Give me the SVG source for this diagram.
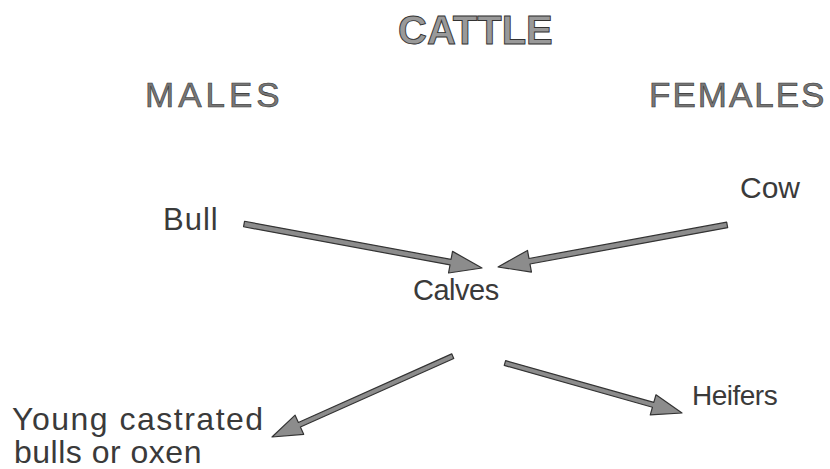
<svg xmlns="http://www.w3.org/2000/svg" width="830" height="469" viewBox="0 0 830 469">
<style>
text{font-family:"Liberation Sans",Arial,sans-serif;fill:#3a3a3a}
.title{font-size:40px;font-weight:bold;fill:#999;stroke:#333;stroke-width:0.9}
.head{font-size:35px;letter-spacing:2px;fill:#777;stroke:#333;stroke-width:0.6}
.lbl{font-size:30px}
.arrow{fill:#8c8c8c;stroke:#333;stroke-width:1.2;stroke-linejoin:round}
</style>
<rect width="830" height="469" fill="#fff"/>
<g id="title"><text class="title" x="398" y="44">CATTLE</text></g>
<g id="males"><text class="head" x="145" y="107" style="letter-spacing:4px">MALES</text></g>
<g id="females"><text class="head" x="649" y="107">FEMALES</text></g>
<g id="bull"><text class="lbl" x="163" y="230" style="font-size:31px;letter-spacing:1px">Bull</text></g>
<g id="cow"><text class="lbl" x="740" y="198">Cow</text></g>
<g id="calves"><text class="lbl" x="413" y="300" style="font-size:29px;letter-spacing:-0.5px">Calves</text></g>
<g id="heifers"><text class="lbl" x="692" y="405" style="font-size:28px;letter-spacing:-0.5px">Heifers</text></g>
<g id="oxen"><text class="lbl" x="12" y="430" style="font-size:32px;letter-spacing:1.5px">Young castrated</text><text class="lbl" x="14" y="463" style="font-size:32px;letter-spacing:0.5px">bulls or oxen</text></g>
<g id="connectors">
<g transform="translate(482,268) rotate(10.47)"><polygon class="arrow" points="-242,-2.8 -32,-2.8 -32,-11 0,0 -32,11 -32,2.8 -242,2.8"/></g>
<g transform="translate(498,267) rotate(169.6)"><polygon class="arrow" points="-233,-2.8 -32,-2.8 -32,-11 0,0 -32,11 -32,2.8 -233,2.8"/></g>
<g transform="translate(272,437) rotate(155.9)"><polygon class="arrow" points="-198,-2.5 -30,-2.5 -30,-10.5 0,0 -30,10.5 -30,2.5 -198,2.5"/></g>
<g transform="translate(682,413) rotate(15.77)"><polygon class="arrow" points="-184,-2.5 -30,-2.5 -30,-10.5 0,0 -30,10.5 -30,2.5 -184,2.5"/></g>
</g>
</svg>
